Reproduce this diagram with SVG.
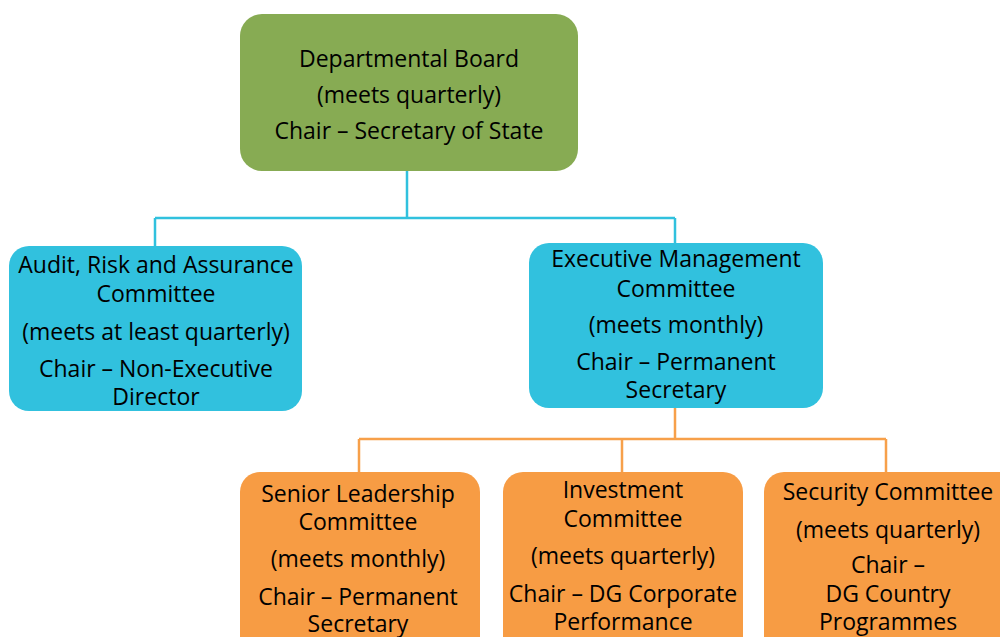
<svg xmlns="http://www.w3.org/2000/svg" width="1000" height="637" viewBox="0 0 1000 637">
<style>
text{font-family:"Open Sans","Liberation Sans",sans-serif;font-size:23px;fill:#000;text-anchor:middle}
.g{fill:#87AB53}.b{fill:#31C1DE}.o{fill:#F79C44}
.lb{stroke:#31C1DE;stroke-width:2.5;fill:none}.lo{stroke:#F7A04A;stroke-width:2.5;fill:none}
</style>
<rect width="1000" height="637" fill="#fff"/>
<g id="connectors">
<path class="lb" d="M407 171V218M155 218H675M155 218V246M675 218V243"/>
<path class="lo" d="M675 408V439M359 439H886M359 439V472M622 439V472M886 439V472"/>
</g>
<g id="board"><rect class="g" x="240" y="14" width="338" height="157" rx="22"/>
<text x="409" y="67">Departmental Board</text><text x="409" y="103">(meets quarterly)</text><text x="409" y="139">Chair – Secretary of State</text></g>
<g id="arac"><rect class="b" x="9" y="246" width="293" height="165" rx="20"/>
<text x="156" y="273">Audit, Risk and Assurance</text><text x="156" y="302">Committee</text><text x="156" y="340">(meets at least quarterly)</text><text x="156" y="377">Chair – Non-Executive</text><text x="156" y="405">Director</text></g>
<g id="emc"><rect class="b" x="529" y="243" width="294" height="165" rx="20"/>
<text x="676" y="267">Executive Management</text><text x="676" y="297">Committee</text><text x="676" y="333">(meets monthly)</text><text x="676" y="370">Chair – Permanent</text><text x="676" y="398">Secretary</text></g>
<g id="slc"><rect class="o" x="240" y="472" width="240" height="190" rx="20"/>
<text x="358" y="502">Senior Leadership</text><text x="358" y="530">Committee</text><text x="358" y="567">(meets monthly)</text><text x="358" y="605">Chair – Permanent</text><text x="358" y="632">Secretary</text></g>
<g id="ic"><rect class="o" x="503" y="472" width="240" height="190" rx="20"/>
<text x="623" y="498">Investment</text><text x="623" y="527">Committee</text><text x="623" y="564">(meets quarterly)</text><text x="623" y="602">Chair – DG Corporate</text><text x="623" y="630">Performance</text></g>
<g id="sc"><rect class="o" x="764" y="472" width="260" height="190" rx="20"/>
<text x="888" y="500">Security Committee</text><text x="888" y="538">(meets quarterly)</text><text x="888" y="573">Chair –</text><text x="888" y="602">DG Country</text><text x="888" y="630">Programmes</text></g>
</svg>
